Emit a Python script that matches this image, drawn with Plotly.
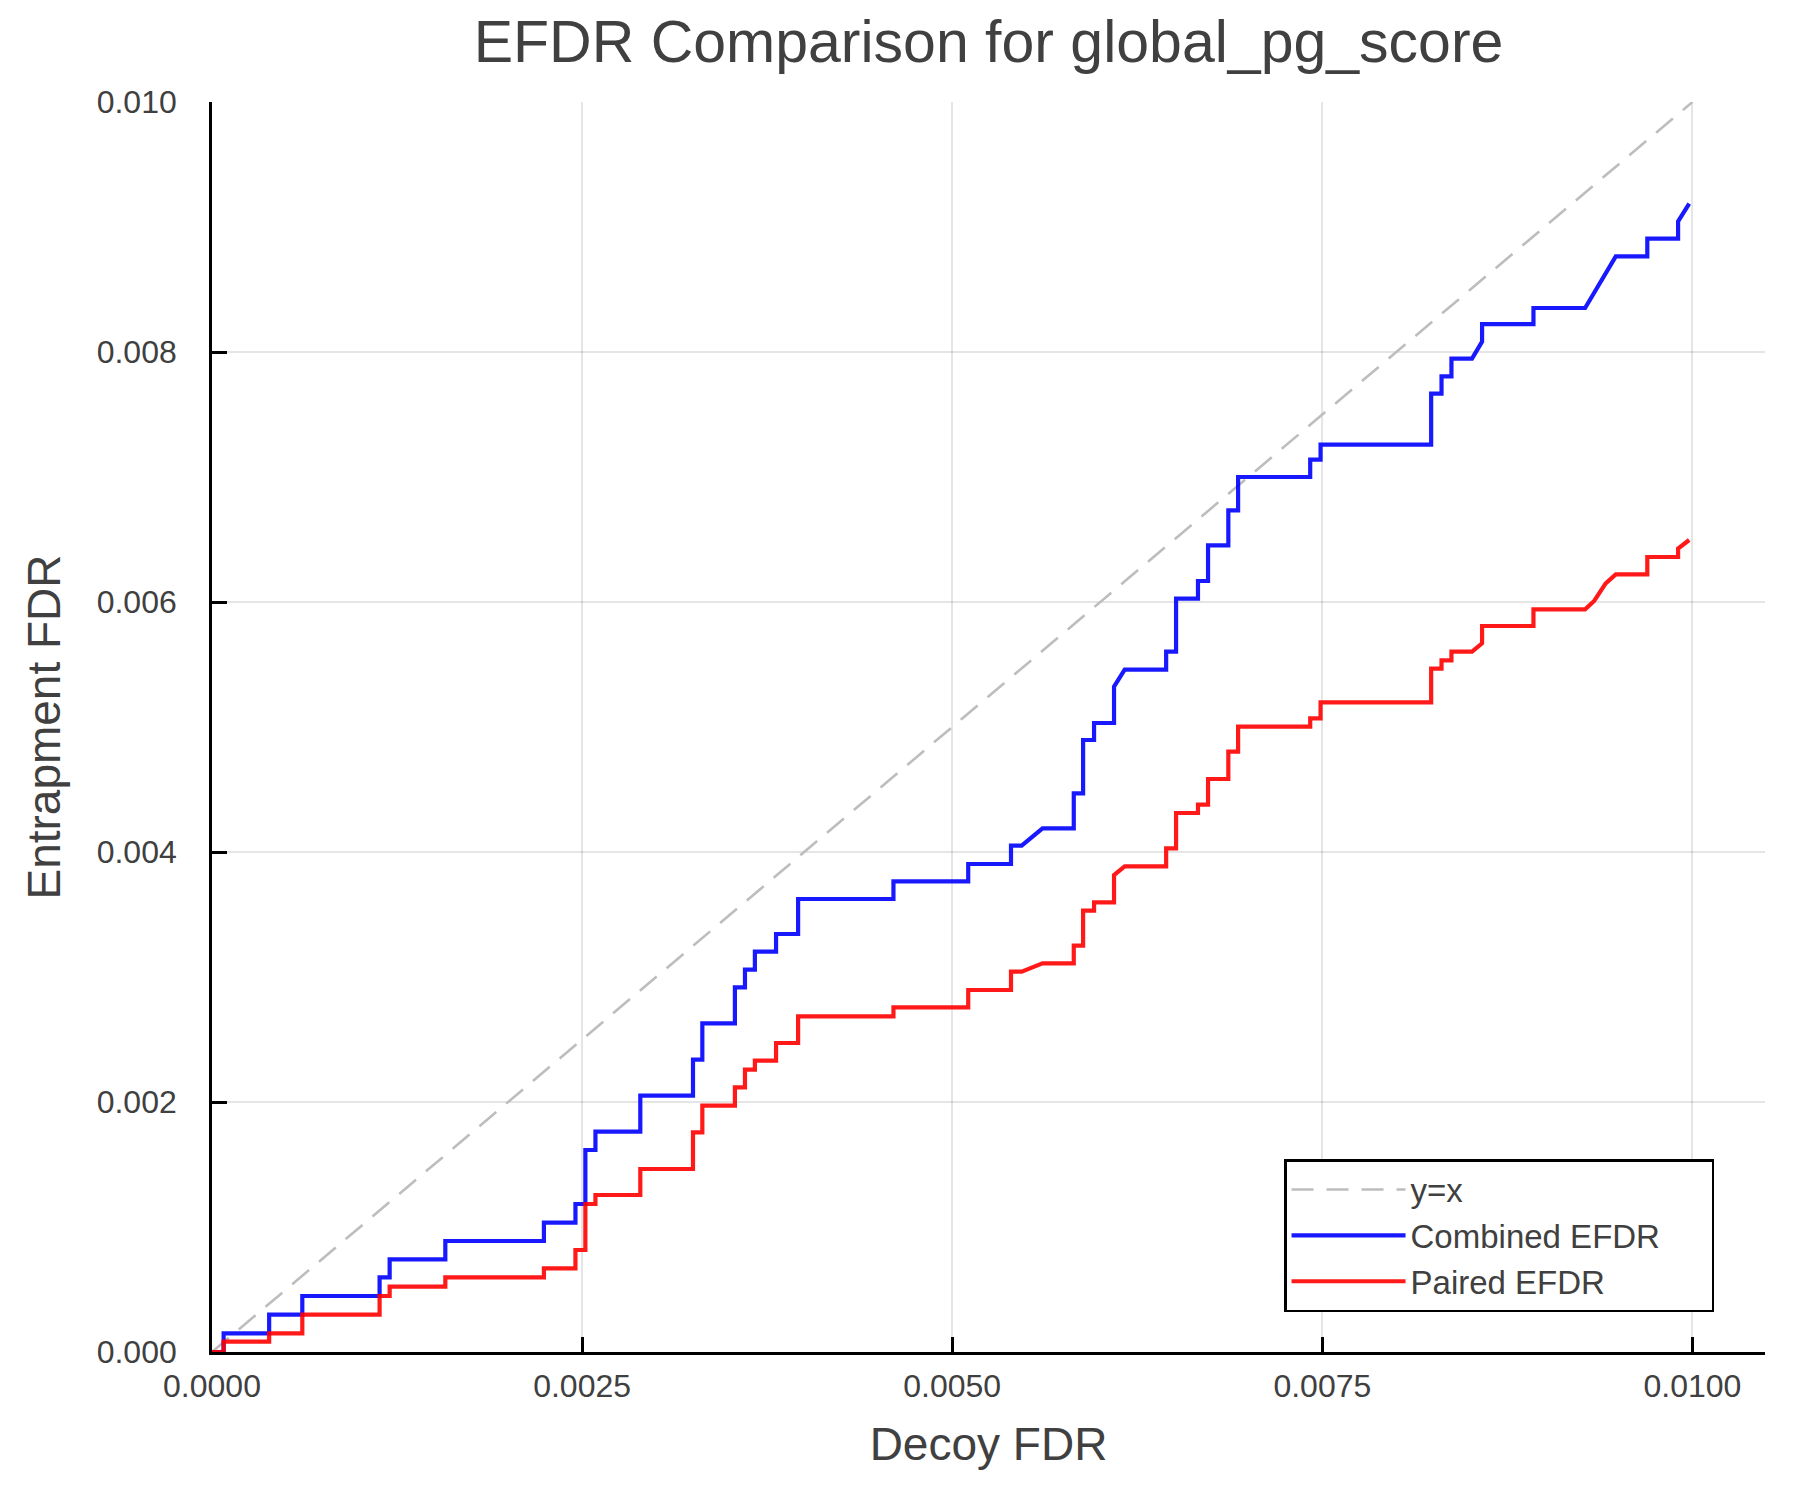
import plotly.graph_objects as go

# vertices of the two EFDR curves (shared decoy FDR axis)
decoy_fdr = [
    0.0, 0.0000785, 0.0000785, 0.000386, 0.000386, 0.000610, 0.000610,
    0.001132, 0.001132, 0.001200, 0.001200, 0.001576, 0.001576,
    0.002242, 0.002242, 0.002455, 0.002455, 0.002522, 0.002522,
    0.002590, 0.002590, 0.002893, 0.002893, 0.003249, 0.003249,
    0.003312, 0.003312, 0.003532, 0.003532, 0.003600, 0.003600,
    0.003667, 0.003667, 0.003810, 0.003810, 0.003959, 0.003959,
    0.004603, 0.004603, 0.005108, 0.005108, 0.005397, 0.005397,
    0.005469, 0.005610, 0.005821, 0.005821, 0.005884, 0.005884,
    0.005958, 0.005958, 0.006093, 0.006093, 0.006165, 0.006445,
    0.006445, 0.006512, 0.006512, 0.006660, 0.006660, 0.006728,
    0.006728, 0.006865, 0.006865, 0.006931, 0.006931, 0.007418,
    0.007418, 0.007488, 0.007488, 0.008235, 0.008235, 0.008305,
    0.008305, 0.008372, 0.008372, 0.008511, 0.008579, 0.008579,
    0.008926, 0.008926, 0.009275, 0.009336, 0.009414, 0.009482,
    0.009695, 0.009695, 0.009903, 0.009903, 0.009978,
]

combined_efdr = [
    0.0, 0.0, 0.000149, 0.000149, 0.000299, 0.000299, 0.000448,
    0.000448, 0.000597, 0.000597, 0.000741, 0.000741, 0.000888,
    0.000888, 0.001035, 0.001035, 0.001184, 0.001184, 0.001616,
    0.001616, 0.001763, 0.001763, 0.002051, 0.002051, 0.002339,
    0.002339, 0.002629, 0.002629, 0.002917, 0.002917, 0.003059,
    0.003059, 0.003203, 0.003203, 0.003344, 0.003344, 0.003624,
    0.003624, 0.003765, 0.003765, 0.003904, 0.003904, 0.004051,
    0.004051, 0.004189, 0.004189, 0.004469, 0.004469, 0.004896,
    0.004896, 0.005032, 0.005032, 0.005323, 0.005459, 0.005459,
    0.005603, 0.005603, 0.006027, 0.006027, 0.006168, 0.006168,
    0.006453, 0.006453, 0.006733, 0.006733, 0.007000, 0.007000,
    0.007139, 0.007139, 0.007259, 0.007259, 0.007667, 0.007667,
    0.007805, 0.007805, 0.007947, 0.007947, 0.008083, 0.008223,
    0.008223, 0.008352, 0.008352, 0.008474, 0.008629, 0.008765,
    0.008765, 0.008907, 0.008907, 0.009045, 0.009187,
]

paired_efdr = [
    0.0, 0.0, 0.0000827, 0.0000827, 0.000149, 0.000149, 0.000299,
    0.000299, 0.000448, 0.000448, 0.000523, 0.000523, 0.000597,
    0.000597, 0.000669, 0.000669, 0.000816, 0.000816, 0.001184,
    0.001184, 0.001256, 0.001256, 0.001464, 0.001464, 0.001757,
    0.001757, 0.001971, 0.001971, 0.002117, 0.002117, 0.002259,
    0.002259, 0.002331, 0.002331, 0.002472, 0.002472, 0.002685,
    0.002685, 0.002757, 0.002757, 0.002896, 0.002896, 0.003043,
    0.003043, 0.003109, 0.003109, 0.003251, 0.003251, 0.003531,
    0.003531, 0.003597, 0.003597, 0.003816, 0.003885, 0.003885,
    0.004029, 0.004029, 0.004312, 0.004312, 0.004379, 0.004379,
    0.004584, 0.004584, 0.004803, 0.004803, 0.005003, 0.005003,
    0.005069, 0.005069, 0.005197, 0.005197, 0.005467, 0.005467,
    0.005533, 0.005533, 0.005603, 0.005603, 0.005669, 0.005808,
    0.005808, 0.005941, 0.005941, 0.006008, 0.006149, 0.006221,
    0.006221, 0.006360, 0.006360, 0.006427, 0.006496,
]

diag = [0.0, 0.01]

x_ticks = [0.0, 0.0025, 0.005, 0.0075, 0.01]
y_ticks = [0.0, 0.002, 0.004, 0.006, 0.008, 0.010]

TEXT = "#404040"
FONT = "Liberation Sans, Arial, Helvetica, sans-serif"
PAD = "\u00a0" * 5  # extra room on the right of the legend box

fig = go.Figure()

# ------ REFERENCE LINE ------
fig.add_trace(
    go.Scatter(
        x=diag,
        y=diag,
        mode="lines",
        name="y=x",
        line=dict(color="#bdbdbd", width=2.6, dash="22px,13px")
    )
)

# ------ EFDR CURVES ------
fig.add_trace(
    go.Scatter(
        x=decoy_fdr,
        y=combined_efdr,
        mode="lines",
        name="Combined EFDR" + PAD,
        line=dict(color="rgba(0,0,255,0.9)", width=4.2)
    )
)

fig.add_trace(
    go.Scatter(
        x=decoy_fdr,
        y=paired_efdr,
        mode="lines",
        name="Paired EFDR",
        line=dict(color="rgba(255,0,0,0.9)", width=4.2)
    )
)

# ------ LAYOUT ------
fig.update_layout(
    template="plotly_white",
    width=1800,
    height=1500,
    margin=dict(l=204, r=43, t=94, b=156),
    paper_bgcolor="white",
    plot_bgcolor="white",
    font=dict(family=FONT, color=TEXT, size=32),
    title=dict(
        text="EFDR Comparison for global_pg_score",
        font=dict(size=59, color=TEXT),
        x=0.5, xref="paper", xanchor="center",
        y=1 - 33 / 1500, yref="container", yanchor="middle"
    ),
    legend=dict(
        x=0.6903, y=0.1544, xanchor="left", yanchor="top",
        bgcolor="white", bordercolor="black", borderwidth=2.5,
        font=dict(size=33, color=TEXT),
        itemwidth=114
    ),
    showlegend=True
)

fig.update_xaxes(
    range=[0, 0.01049],
    tickvals=x_ticks,
    tickformat=".4f",
    ticks="inside", ticklen=15, tickwidth=3, tickcolor="black",
    showline=True, linecolor="black", linewidth=2.7, mirror=False,
    showgrid=True, gridcolor="rgba(0,0,0,0.1)", gridwidth=1.5,
    zeroline=False,
    ticklabelstandoff=4,
    tickfont=dict(size=32, color=TEXT),
    title=dict(text="Decoy FDR", font=dict(size=46, color=TEXT), standoff=25)
)

fig.update_yaxes(
    range=[0, 0.010],
    tickvals=y_ticks,
    tickformat=".3f",
    ticks="inside", ticklen=15, tickwidth=3, tickcolor="black",
    showline=True, linecolor="black", linewidth=2.7, mirror=False,
    showgrid=True, gridcolor="rgba(0,0,0,0.1)", gridwidth=1.5,
    zeroline=False,
    ticklabelstandoff=26,
    tickfont=dict(size=32, color=TEXT),
    title=dict(text="Entrapment FDR", font=dict(size=46, color=TEXT), standoff=22)
)

fig.write_html("out.html")
